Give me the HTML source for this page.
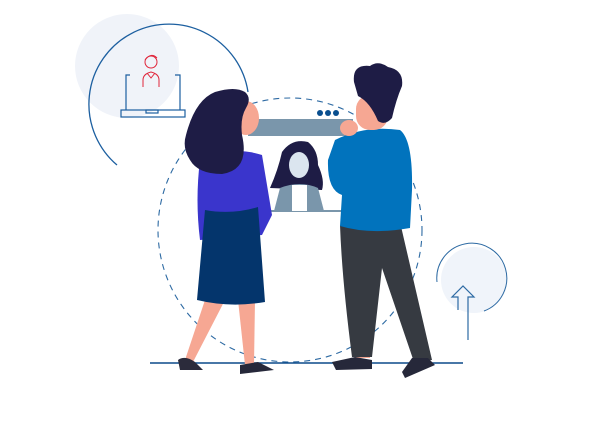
<!DOCTYPE html>
<html><head><meta charset="utf-8"><style>html,body{margin:0;padding:0;background:#fff}svg{display:block}</style></head>
<body>
<svg width="600" height="424" viewBox="0 0 600 424" xmlns="http://www.w3.org/2000/svg">
<rect width="600" height="424" fill="#fff"/>
<circle cx="127" cy="66" r="52" fill="#f0f3f9"/>
<path d="M117,165 A80,80 0 1 1 248,92" fill="none" stroke="#1c5fa0" stroke-width="1.3"/>
<g fill="none" stroke="#1c5fa0" stroke-width="1.2">
<path d="M130,75 H126 V110 M175,75 H180 V110"/>
<rect x="121" y="110" width="64" height="7"/>
<rect x="146" y="110" width="12" height="3"/>
</g>
<g fill="none" stroke="#e0243a" stroke-width="1">
<circle cx="151" cy="62" r="6"/>
<path d="M145,60 Q151,52 157,58 M143,87 V80 Q143,74 151,72 Q159,74 159,80 V87 M147,73 L151,78 L155,73"/>
</g>
<circle cx="290" cy="230" r="132" fill="none" stroke="#2d6aa3" stroke-width="1.1" stroke-dasharray="6,5"/>
<line x1="150" y1="363" x2="463" y2="363" stroke="#0b4a8a" stroke-width="1.5"/>
<circle cx="474" cy="280" r="33" fill="#f0f4fa"/>
<path d="M437,282 A35,35 0 1 1 484,311" fill="none" stroke="#2d6aa3" stroke-width="1"/>
<path d="M458,310 V297 H452 L463,286 L474,297 H468 V340" fill="none" stroke="#2d6aa3" stroke-width="1.2"/>
<rect x="248" y="119" width="105" height="17" fill="#7a96ab"/>
<circle cx="320" cy="113" r="3" fill="#0a4f8f"/><circle cx="328" cy="113" r="3" fill="#0a4f8f"/><circle cx="336" cy="113" r="3" fill="#0a4f8f"/>
<line x1="268" y1="211" x2="342" y2="211" stroke="#7a96ab" stroke-width="2"/>
<path d="M270,188 Q278,170 282,152 Q292,138 308,142 Q318,150 318,165 Q325,180 322,190 Z" fill="#1e1c45"/>
<path d="M274,211 L280,188 Q300,180 318,188 L324,211 Z" fill="#7a96ab"/>
<rect x="292" y="185" width="15" height="26" fill="#fff"/>
<ellipse cx="299" cy="165" rx="10" ry="13" fill="#dbe5ef"/>
<path d="M205,300 L185,360 L193,362 L225,300 Z" fill="#f6a793"/>
<path d="M238,300 L245,365 L254,365 L255,300 Z" fill="#f6a793"/>
<path d="M178,360 Q185,355 195,362 L203,370 L180,370 Z" fill="#2b2b3b"/>
<path d="M240,365 L258,362 L274,370 L240,374 Z" fill="#26283a"/>
<path d="M200,160 Q230,145 262,155 L272,215 L262,235 L200,240 Q195,200 200,160 Z" fill="#3a35cc"/>
<path d="M205,210 Q232,215 258,207 L265,302 Q230,308 197,300 Z" fill="#04356c"/>
<ellipse cx="246" cy="118" rx="13" ry="17" fill="#f6a793"/>
<path d="M186,135 Q195,100 215,92 Q235,86 245,92 Q252,98 246,108 Q240,118 242,135 Q250,170 222,174 Q198,174 190,160 Q182,148 186,135 Z" fill="#1e1c45"/>
<path d="M348,280 L355,358 L370,358 L375,285 Z" fill="#f6a793"/>
<path d="M340,225 Q370,230 400,222 L432,360 L414,362 L382,268 L372,357 L352,357 Q342,280 340,225 Z" fill="#363a41"/>
<path d="M332,362 L355,357 L372,360 L372,369 L336,370 Z" fill="#26283a"/>
<path d="M412,358 L428,358 L435,365 L405,378 L402,372 Z" fill="#26283a"/>
<path d="M335,140 Q365,125 400,130 Q413,140 412,190 L410,228 Q370,235 340,226 L342,195 Q327,190 328,160 Z" fill="#0173bd"/>
<ellipse cx="349" cy="128" rx="9" ry="8" fill="#f6a793"/>
<rect x="356" y="95" width="32" height="35" rx="14" fill="#f6a793"/>
<path d="M354,82 Q352,64 370,66 Q378,60 388,67 Q404,70 402,86 Q396,100 392,118 Q385,126 378,121 Q370,102 358,96 Z" fill="#1e1c45"/>
</svg>
</body></html>
